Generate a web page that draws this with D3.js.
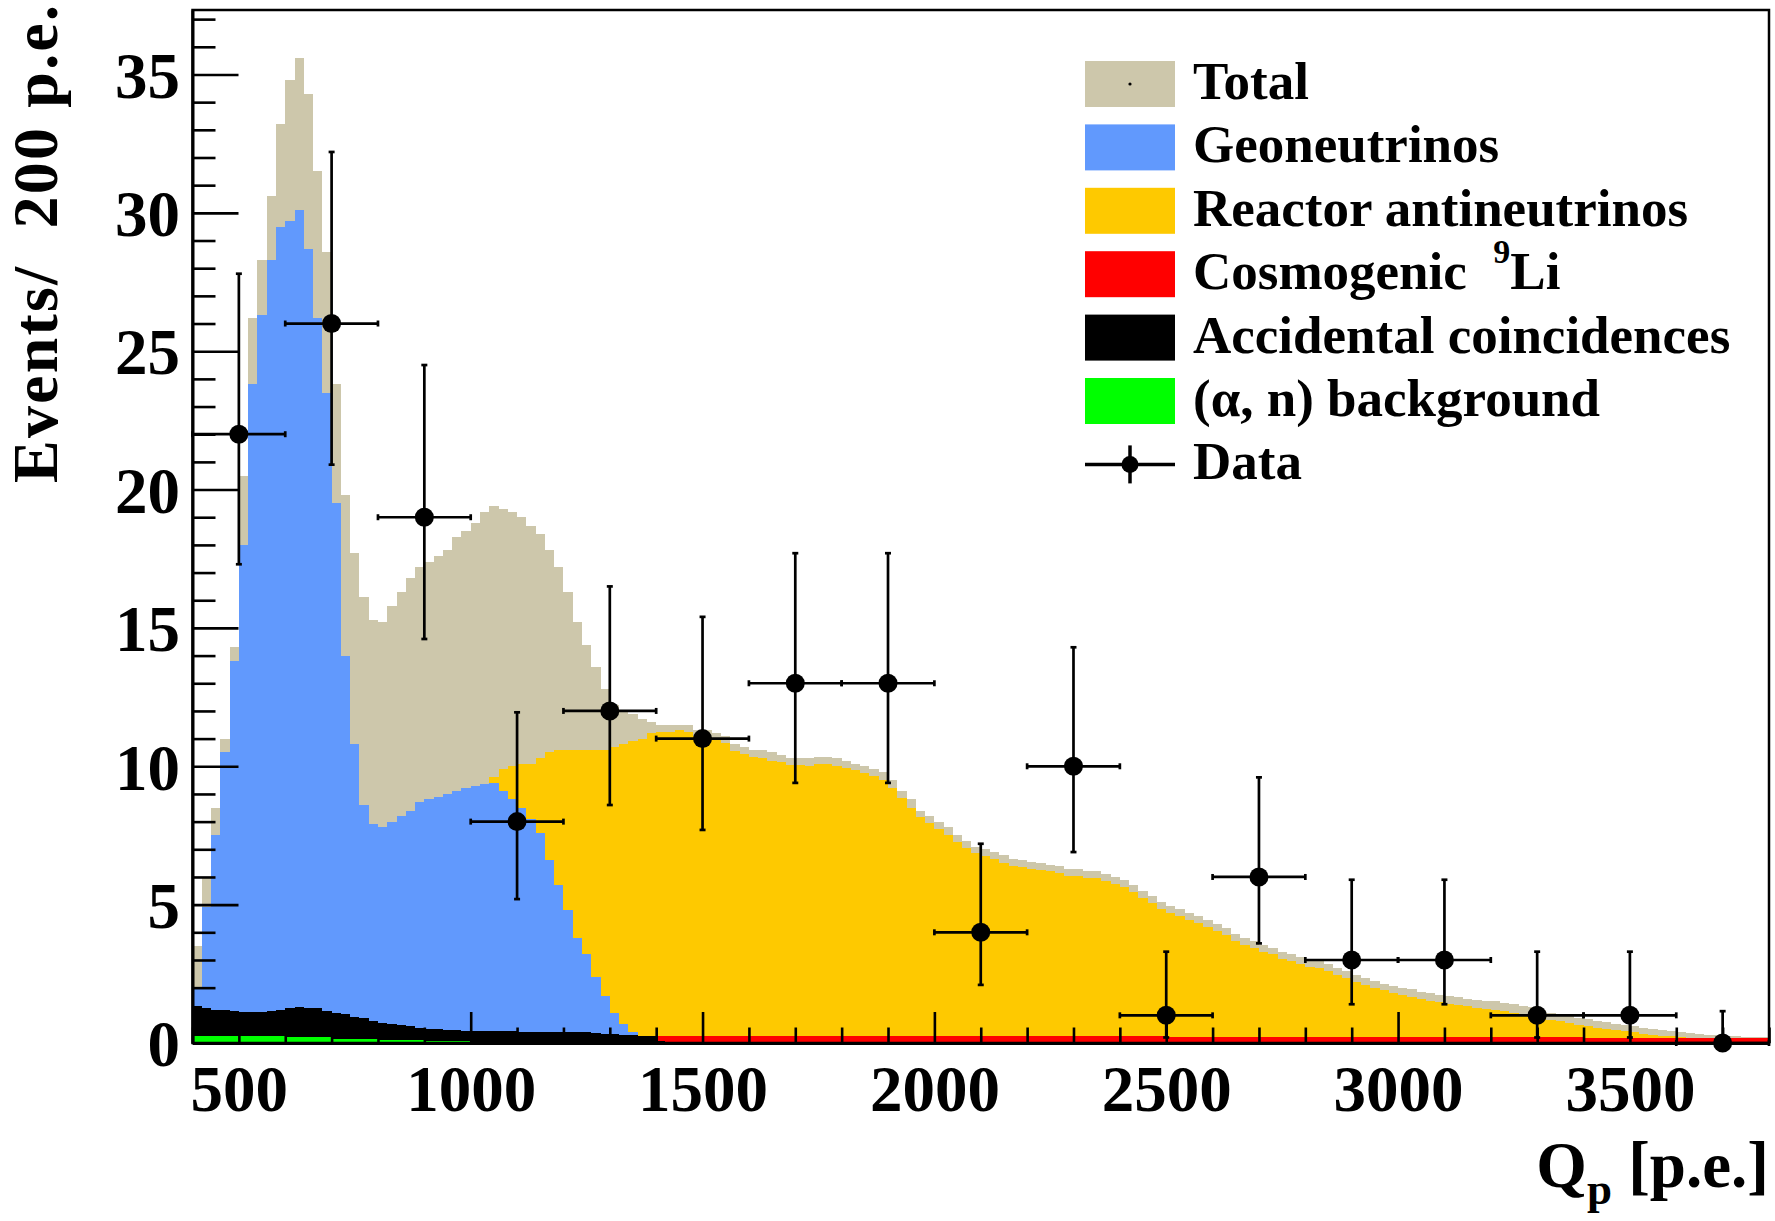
<!DOCTYPE html>
<html><head><meta charset="utf-8">
<script src="https://cdn.jsdelivr.net/npm/d3@7"></script>
<style>
html,body{margin:0;padding:0;background:#fff;}
svg{display:block;font-family:"Liberation Serif","Times New Roman",serif;font-weight:bold;}
text{white-space:pre;}
</style></head><body>
<svg id="chart" width="1775" height="1221"></svg>
<script>
// ---------------- data ----------------
const binStart = 400;
const binWidth = 20;           // p.e. per MC bin
// Total expectation (tan)
const totalValues = [
 3.5, 6.0, 8.5, 11.0, 14.3, 20.5, 26.2, 28.3, 30.6, 33.2,
 34.8, 35.6, 34.3, 31.5, 28.6, 23.8, 19.8, 17.7, 16.1, 15.3,
 15.2, 15.8, 16.3, 16.8, 17.2, 17.4, 17.6, 17.8, 18.3, 18.5,
 18.8, 19.2, 19.4, 19.3, 19.2, 19.0, 18.7, 18.4, 17.8, 17.2,
 16.3, 15.2, 14.4, 13.6, 12.8, 12.2, 12.0, 11.9, 11.7, 11.6,
 11.5, 11.5, 11.5, 11.5, 11.3, 11.3, 11.2, 11.1, 10.8, 10.7,
 10.6, 10.6, 10.5, 10.4, 10.3, 10.3, 10.3, 10.35, 10.35, 10.3,
 10.2, 10.1, 10.0, 9.9, 9.8, 9.5, 9.1, 8.8, 8.4, 8.2,
 8.0, 7.8, 7.5, 7.3, 7.1, 7.0, 6.9, 6.8, 6.65, 6.6,
 6.55, 6.5, 6.45, 6.4, 6.3, 6.3, 6.2, 6.2, 6.1, 6.0,
 5.9, 5.7, 5.5, 5.3, 5.1, 4.95, 4.85, 4.7, 4.6, 4.45,
 4.3, 4.15, 3.95, 3.8, 3.7, 3.55, 3.45, 3.3, 3.2, 3.1,
 3.0, 2.95, 2.85, 2.7, 2.6, 2.45, 2.35, 2.25, 2.15, 2.05,
 2.0, 1.95, 1.85, 1.8, 1.75, 1.7, 1.65, 1.6, 1.55, 1.5,
 1.5, 1.45, 1.4, 1.35, 1.3, 1.2, 1.1, 1.05, 0.98, 0.9,
 0.85, 0.8, 0.75, 0.7, 0.65, 0.6, 0.55, 0.5, 0.47, 0.43,
 0.4, 0.36, 0.33, 0.3, 0.28, 0.26, 0.24, 0.23, 0.22, 0.21
];
// Geoneutrinos (blue)
const geoValues = [
 2.0, 4.9, 7.5, 10.5, 13.8, 18.0, 23.8, 26.3, 28.3, 29.5,
 29.7, 30.1, 28.7, 26.2, 23.5, 19.5, 14.0, 10.8, 8.6, 7.9,
 7.8, 8.0, 8.2, 8.4, 8.7, 8.8, 8.9, 9.0, 9.1, 9.2,
 9.3, 9.35, 9.4, 9.1, 8.8, 8.5, 8.1, 7.6, 6.6, 5.7,
 4.8, 3.8, 3.2, 2.4, 1.7, 1.1, 0.7, 0.4, 0.2, 0.1,
 0.05, 0.03
];
// Reactor antineutrinos (yellow)
const reactorValues = [
 0.4, 0.8, 1.2, 1.5, 1.8, 2.1, 2.5, 2.8, 3.2, 3.6,
 4.0, 4.3, 4.6, 4.8, 5.0, 5.2, 5.5, 5.8, 6.3, 6.6,
 6.8, 7.0, 7.4, 7.7, 7.9, 8.0, 8.1, 8.2, 8.6, 8.8,
 9.0, 9.3, 9.6, 9.9, 10.0, 10.1, 10.1, 10.3, 10.5, 10.6,
 10.6, 10.6, 10.6, 10.6, 10.6, 10.7, 10.8, 10.9, 11.0, 11.2,
 11.25, 11.25, 11.3, 11.25, 11.1, 11.05, 10.95, 10.85, 10.55, 10.45,
 10.35, 10.3, 10.2, 10.15, 10.05, 10.05, 10.0, 10.1, 10.1, 10.0,
 9.95, 9.85, 9.75, 9.65, 9.5, 9.2, 8.85, 8.5, 8.15, 7.95,
 7.75, 7.5, 7.25, 7.05, 6.85, 6.75, 6.65, 6.5, 6.4, 6.35,
 6.3, 6.25, 6.2, 6.15, 6.05, 6.05, 5.95, 5.95, 5.85, 5.75,
 5.65, 5.45, 5.25, 5.05, 4.85, 4.7, 4.6, 4.45, 4.35, 4.2,
 4.05, 3.9, 3.7, 3.55, 3.45, 3.3, 3.2, 3.05, 2.95, 2.85,
 2.75, 2.7, 2.6, 2.45, 2.35, 2.2, 2.1, 2.0, 1.9, 1.8,
 1.72, 1.68, 1.58, 1.52, 1.47, 1.42, 1.37, 1.32, 1.27, 1.22,
 1.2, 1.15, 1.1, 1.05, 1.0, 0.92, 0.83, 0.78, 0.72, 0.65,
 0.6, 0.56, 0.51, 0.46, 0.42, 0.38, 0.34, 0.3, 0.27, 0.24,
 0.22, 0.19, 0.17, 0.15, 0.13, 0.12, 0.1, 0.09, 0.08, 0.07
];
// Accidental coincidences (black)
const accidentalValues = [
 1.35, 1.25, 1.2, 1.18, 1.15, 1.12, 1.13, 1.12, 1.15, 1.18,
 1.25, 1.3, 1.28, 1.25, 1.15, 1.1, 1.05, 0.95, 0.9, 0.78,
 0.72, 0.7, 0.65, 0.6, 0.55, 0.52, 0.5, 0.48, 0.46, 0.45,
 0.44, 0.42, 0.43, 0.42, 0.43, 0.41, 0.4, 0.41, 0.4, 0.39,
 0.4, 0.38, 0.38, 0.36, 0.34, 0.31, 0.29, 0.28, 0.27, 0.26,
 0.06, 0.04
];
// Cosmogenic 9Li (red), coarser bins
const lithiumBinWidth = 100;
const lithiumValues = [
 0.26, 0.26, 0.26, 0.26, 0.26, 0.26, 0.26, 0.26, 0.26, 0.26,
 0.26, 0.26, 0.25, 0.25, 0.25, 0.25, 0.25, 0.24, 0.24, 0.24,
 0.24, 0.23, 0.23, 0.23, 0.22, 0.22, 0.21, 0.21, 0.2, 0.2,
 0.19, 0.19, 0.18, 0.18
];
// (alpha, n) background (green), coarser bins
const alphaNBinWidth = 100;
const alphaNValues = [0.27, 0.24, 0.2, 0.15, 0.11, 0.08];

// Data points (bin centres, counts, Poisson error band)
const dataX = [500, 700, 900, 1100, 1300, 1500, 1700, 1900, 2100, 2300, 2500, 2700, 2900, 3100, 3300, 3500, 3700];
const dataY = [22, 26, 19, 8, 12, 11, 13, 13, 4, 10, 1, 6, 3, 3, 1, 1, 0];
const dataLow  = [17.3, 20.9, 14.6, 5.2, 8.6, 7.7, 9.4, 9.4, 2.1, 6.9, 0.2, 3.6, 1.4, 1.4, 0.2, 0.2, 0];
const dataHigh = [27.8, 32.2, 24.5, 11.95, 16.5, 15.4, 17.7, 17.7, 7.2, 14.3, 3.3, 9.6, 5.9, 5.9, 3.3, 3.3, 1.15];
const dataHalfWidth = 100;

// Axes ticks
const xMajorTicks = [500, 1000, 1500, 2000, 2500, 3000, 3500];
const xMinorTicks = d3.range(400, 3801, 100).filter(v => v % 500 !== 0);
const yMajorTicks = [0, 5, 10, 15, 20, 25, 30, 35];
const yMinorTicks = d3.range(0, 38, 1).filter(v => v % 5 !== 0);

// Legend
const legendLabels = ["Total", "Geoneutrinos", "Reactor antineutrinos", "Cosmogenic", "Accidental coincidences", "(\u03b1, n) background", "Data"];
const colors = {total: "#cdc7ab", geo: "#6199fd", reactor: "#fec900", li: "#ff0000", acc: "#000000", alpha: "#00ff00"};

// ---------------- drawing ----------------
const svg = d3.select("#chart");
const x = d3.scaleLinear().domain([400, 3800]).range([192.5, 1769]);
const y = d3.scaleLinear().domain([0, 37.33]).range([1043, 10]);

function histPath(values, start, width) {
  const p = d3.path();
  p.moveTo(x(start), y(0));
  values.forEach((v, i) => {
    p.lineTo(x(start + i * width), y(v));
    p.lineTo(x(start + (i + 1) * width), y(v));
  });
  p.lineTo(x(start + values.length * width), y(0));
  p.closePath();
  return p.toString();
}

const hists = [
  {vals: totalValues, w: binWidth, c: colors.total},
  {vals: reactorValues, w: binWidth, c: colors.reactor},
  {vals: geoValues, w: binWidth, c: colors.geo},
  {vals: lithiumValues, w: lithiumBinWidth, c: colors.li},
  {vals: accidentalValues, w: binWidth, c: colors.acc},
  {vals: alphaNValues, w: alphaNBinWidth, c: colors.alpha}
];
svg.append("g").selectAll("path").data(hists).join("path")
  .attr("d", d => histPath(d.vals, binStart, d.w))
  .attr("fill", d => d.c)
  .attr("shape-rendering", "crispEdges");

// frame
svg.append("rect")
  .attr("x", x(400)).attr("y", y(37.33))
  .attr("width", x(3800) - x(400)).attr("height", y(0) - y(37.33))
  .attr("fill", "none").attr("stroke", "#000").attr("stroke-width", 2.5);

// x axis
const xg = svg.append("g").attr("transform", `translate(0,${y(0)})`);
xg.append("g").call(d3.axisBottom(x).tickValues(xMinorTicks).tickSize(-15.5).tickSizeOuter(0).tickFormat(""))
  .call(g => g.select(".domain").remove());
xg.append("g").call(d3.axisBottom(x).tickValues(xMajorTicks).tickSize(-31).tickSizeOuter(0).tickPadding(22).tickFormat(d3.format("d")))
  .call(g => g.select(".domain").attr("stroke-width", 3))
  .call(g => g.selectAll("text").attr("font-size", 65).attr("font-family", "Liberation Serif").attr("font-weight", "bold").attr("fill", "#000"));
xg.selectAll(".tick line").attr("stroke", "#000").attr("stroke-width", 2.6);

// y axis
const yg = svg.append("g").attr("transform", `translate(${x(400)},0)`);
yg.append("g").call(d3.axisLeft(y).tickValues(yMinorTicks).tickSize(-23).tickSizeOuter(0).tickFormat(""))
  .call(g => g.select(".domain").remove());
yg.append("g").call(d3.axisLeft(y).tickValues(yMajorTicks).tickSize(-46).tickSizeOuter(0).tickPadding(12.5).tickFormat(d3.format("d")))
  .call(g => g.select(".domain").attr("stroke-width", 3))
  .call(g => g.selectAll("text").attr("font-size", 65).attr("dy", "0.35em").attr("font-family", "Liberation Serif").attr("font-weight", "bold").attr("fill", "#000"));
yg.selectAll(".tick line").attr("stroke", "#000").attr("stroke-width", 2.6);

// data points
const dg = svg.append("g").attr("stroke", "#000").attr("stroke-width", 2.7);
const cap = 3;
dataX.forEach((xv, i) => {
  const cx = x(xv), cy = y(dataY[i]);
  const xl = x(xv - dataHalfWidth), xr = x(xv + dataHalfWidth);
  const yt = y(dataHigh[i]), yb = y(dataLow[i]);
  dg.append("line").attr("x1", xl).attr("x2", xr).attr("y1", cy).attr("y2", cy);
  dg.append("line").attr("x1", cx).attr("x2", cx).attr("y1", yt).attr("y2", yb);
  dg.append("line").attr("x1", xl).attr("x2", xl).attr("y1", cy - cap).attr("y2", cy + cap);
  dg.append("line").attr("x1", xr).attr("x2", xr).attr("y1", cy - cap).attr("y2", cy + cap);
  dg.append("line").attr("x1", cx - cap).attr("x2", cx + cap).attr("y1", yt).attr("y2", yt);
  dg.append("line").attr("x1", cx - cap).attr("x2", cx + cap).attr("y1", yb).attr("y2", yb);
});
svg.append("g").selectAll("circle").data(dataX).join("circle")
  .attr("cx", d => x(d)).attr("cy", (d, i) => y(dataY[i])).attr("r", 9.5).attr("fill", "#000");

// axis titles
const yt = svg.append("text")
  .attr("transform", "translate(57,483) rotate(-90)")
  .attr("font-size", 64).attr("text-anchor", "start")
  .attr("textLength", 478).attr("lengthAdjust", "spacing")
  .text("Events/  200 p.e.");
const xt = svg.append("text").attr("x", 1769).attr("y", 1187).attr("font-size", 65).attr("text-anchor", "end");
xt.append("tspan").text("Q");
xt.append("tspan").attr("font-size", 45).attr("dy", 17).text("p");
xt.append("tspan").attr("dy", -17).text(" [p.e.]");

// legend
const lgX = 1085, lgW = 90, lgH = 46, lgRow0 = 84, lgStep = 63.4, lgTextX = 1193;
const legendColors = [colors.total, colors.geo, colors.reactor, colors.li, colors.acc, colors.alpha];
const lg = svg.append("g");
legendColors.forEach((c, i) => {
  const cy = lgRow0 + i * lgStep;
  lg.append("rect").attr("x", lgX).attr("y", cy - lgH / 2).attr("width", lgW).attr("height", lgH).attr("fill", c);
});
lg.append("circle").attr("cx", lgX + lgW / 2).attr("cy", lgRow0).attr("r", 1.6).attr("fill", "#000");
const dataRowY = lgRow0 + 6 * lgStep;
lg.append("line").attr("x1", lgX).attr("x2", lgX + lgW).attr("y1", dataRowY).attr("y2", dataRowY).attr("stroke", "#000").attr("stroke-width", 3.5);
lg.append("line").attr("x1", lgX + lgW / 2).attr("x2", lgX + lgW / 2).attr("y1", dataRowY - 19).attr("y2", dataRowY + 19).attr("stroke", "#000").attr("stroke-width", 3.5);
lg.append("circle").attr("cx", lgX + lgW / 2).attr("cy", dataRowY).attr("r", 8.5).attr("fill", "#000");
legendLabels.forEach((t, i) => {
  const ty = lgRow0 + i * lgStep + 15;
  const tx = lg.append("text").attr("x", lgTextX).attr("y", ty).attr("font-size", 53);
  if (i === 3) {
    tx.append("tspan").text(t + "  ");
    tx.append("tspan").attr("font-size", 34).attr("dy", -26).text("9");
    tx.append("tspan").attr("dy", 26).text("Li");
  } else {
    tx.text(t);
  }
});
</script>
</body></html>
